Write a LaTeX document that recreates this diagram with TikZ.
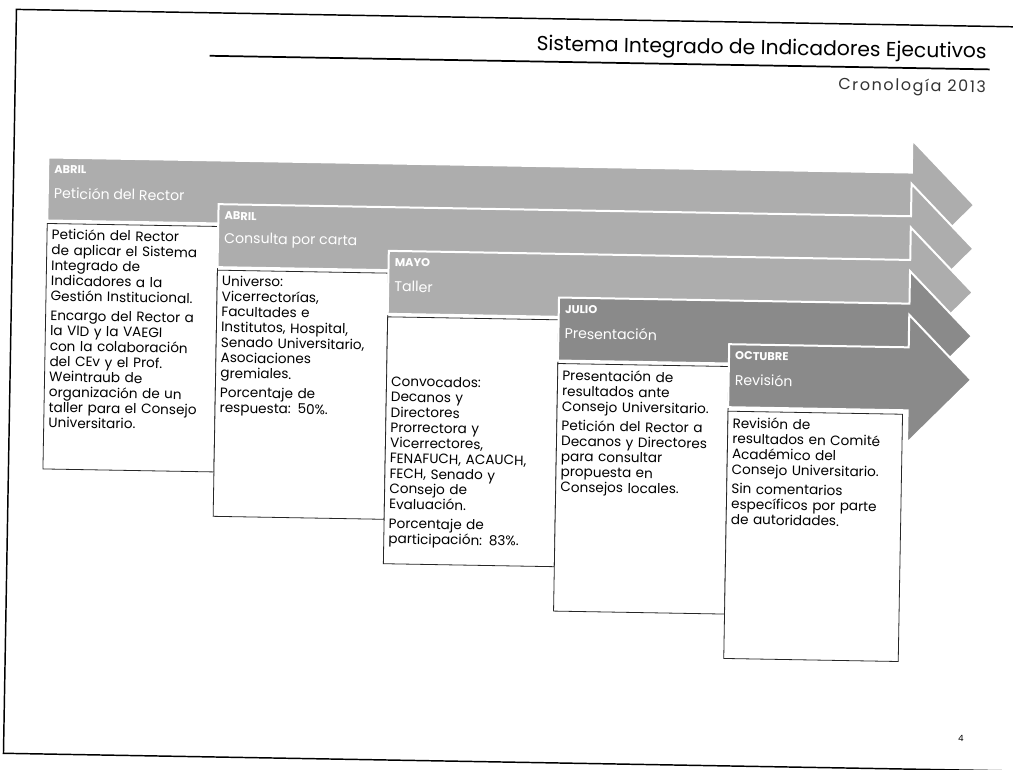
\documentclass[tikz,border=0pt]{standalone}
\usepackage{fontspec}
\setmainfont{Poppins}
\usepackage{tikz}
\usetikzlibrary{positioning}

\begin{document}
\begin{tikzpicture}[
  x=0.75pt, y=-0.75pt,
  banda/.style={draw=white, line width=1.5pt, line join=miter},
  clara/.style={banda, fill=black!32},
  oscura/.style={banda, fill=black!46},
  caja/.style={draw=black!85, line width=0.6pt, fill=white},
  mes/.style={anchor=west, text=white, inner sep=0pt,
    font=\fontsize{8.5}{10}\selectfont\bfseries},
  etapa/.style={anchor=west, text=white, inner sep=0pt,
    font=\fontsize{10.6}{12}\selectfont},
  texto/.style={anchor=north west, text width=132pt, align=left, inner sep=0pt,
    font=\fontsize{10.2}{11.5}\selectfont},
  titulo/.style={anchor=base east, inner sep=0pt}
]
  \clip (0,0) rectangle (1013,769);
  \begin{scope}[rotate around={-1:(506,384)}, transform shape]

  % Marco de la lamina
  \draw[line width=1.1pt] (1040,18) -- (10,18) -- (10,762) -- (1040,762);

  % Encabezado
  \node[titulo, font=\fontsize{15.2}{17}\selectfont] (tit) at (981,50)
    {Sistema Integrado de Indicadores Ejecutivos};
  \draw[line width=1.3pt] (204,61) -- (984,61);
  \node[titulo, font=\fontsize{12}{14}\selectfont\addfontfeatures{LetterSpace=10},
    text=black!80] (sub) at (981,84) {Cronología 2013};

  % Etapa 1: abril
  \draw[clara] (44.5,165.5) -- (908,165.5) -- (908,133) -- (971,197)
    -- (908,261) -- (908,228.5) -- (44.5,228.5) -- cycle;
  \node[mes] (mes1) at (50.5,177) {ABRIL};
  \node[etapa] (eta1) at (50.5,201) {Petición del Rector};
  \draw[caja] (44.5,231.5) rectangle (215.5,477);
  \node[texto] (txt1) at (49,236.5)
    {Petición del Rector\\ de aplicar el Sistema\\ Integrado de\\
     Indicadores a la\\ Gestión Institucional.\\[3pt]
     Encargo del Rector a\\ la VID y la VAEGI\\ con la colaboración\\
     del CEv y el Prof.\\ Weintraub de\\ organización de un\\
     taller para el Consejo\\ Universitario.};

  % Etapa 2: abril
  \draw[clara] (215.5,209.2) -- (908,209.2) -- (908,176.7) -- (971,240.7)
    -- (908,304.7) -- (908,272.2) -- (215.5,272.2) -- cycle;
  \node[mes] (mes2) at (221.5,220.7) {ABRIL};
  \node[etapa] (eta2) at (221.5,244.7) {Consulta por carta};
  \draw[caja] (215.5,275.2) rectangle (386.5,521.4);
  \node[texto] (txt2) at (220,280.2)
    {Universo:\\ Vicerrectorías,\\ Facultades e\\ Institutos, Hospital,\\
     Senado Universitario,\\ Asociaciones\\ gremiales.\\[3pt]
     Porcentaje de\\ respuesta: 50\%.};

  % Etapa 3: mayo
  \draw[clara] (386.5,252.9) -- (908,252.9) -- (908,220.4) -- (971,284.4)
    -- (908,348.4) -- (908,315.9) -- (386.5,315.9) -- cycle;
  \node[mes] (mes3) at (392.5,264.4) {MAYO};
  \node[etapa] (eta3) at (392.5,288.4) {Taller};
  \draw[caja] (386.5,318.9) rectangle (557.5,565.8);
  \node[texto] (txt3) at (391,378)
    {Convocados:\\ Decanos y\\ Directores\\ Prorrectora y\\ Vicerrectores,\\
     FENAFUCH, ACAUCH,\\ FECH, Senado y\\ Consejo de\\ Evaluación.\\[3pt]
     Porcentaje de\\ participación: 83\%.};

  % Etapa 4: julio
  \draw[oscura] (557.5,296.6) -- (908,296.6) -- (908,264.1) -- (971,328.1)
    -- (908,392.1) -- (908,359.6) -- (557.5,359.6) -- cycle;
  \node[mes] (mes4) at (563.5,308.1) {JULIO};
  \node[etapa] (eta4) at (563.5,332.1) {Presentación};
  \draw[caja] (557.5,362.6) rectangle (728.5,610.2);
  \node[texto] (txt4) at (562,368.6)
    {Presentación de\\ resultados ante\\ Consejo Universitario.\\[3pt]
     Petición del Rector a\\ Decanos y Directores\\ para consultar\\
     propuesta en\\ Consejos locales.};

  % Etapa 5: octubre
  \draw[oscura] (728.5,340.3) -- (908,340.3) -- (908,307.8) -- (971,371.8)
    -- (908,435.8) -- (908,403.3) -- (728.5,403.3) -- cycle;
  \node[mes] (mes5) at (734.5,351.8) {OCTUBRE};
  \node[etapa] (eta5) at (734.5,375.8) {Revisión};
  \draw[caja] (728.5,407.3) rectangle (903,654.6);
  \node[texto] (txt5) at (733,413.3)
    {Revisión de\\ resultados en Comité\\ Académico del\\
     Consejo Universitario.\\[3pt]
     Sin comentarios\\ específicos por parte\\ de autoridades.};

  % Numero de pagina
  \node[font=\fontsize{6.5}{8}\selectfont] (pag) at (967,730) {4};
  \end{scope}
\end{tikzpicture}
\end{document}
